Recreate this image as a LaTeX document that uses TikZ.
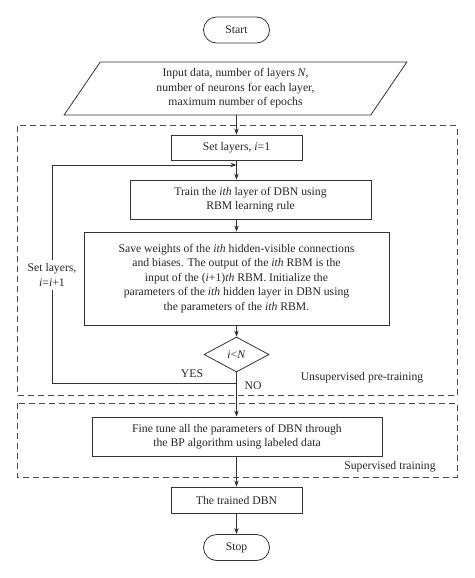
\documentclass[tikz,border=0pt]{standalone}
\usepackage{fontspec}
\setmainfont{Liberation Serif}
\usetikzlibrary{shapes.geometric, shapes.misc, arrows.meta}

\tikzset{
    box/.style={draw=black!80, line width=0.8pt, align=center, inner sep=0pt},
    term/.style={box, rounded rectangle, minimum width=66pt, minimum height=26pt},
    region/.style={draw=black!70, line width=0.8pt, dash pattern=on 6pt off 4pt},
    flow/.style={-{Stealth[length=6pt, width=4.5pt]}, draw=black!80, line width=0.8pt},
    txt/.style={text=black!85, font=\fontsize{11.7}{14.5}\selectfont}
}

\begin{document}
\begin{tikzpicture}[x=1pt, y=-1pt, every node/.style={txt}]
            \useasboundingbox (0, 0) rectangle (474, 578);
            \draw[region] (17, 125.5) rectangle (457, 395);
            \draw[region] (17, 403) rectangle (457, 477);
            \node[term] (start) at (236.5, 30){Start};
            \node[box, trapezium, trapezium left angle=62, trapezium right angle=118, trapezium stretches=true, minimum width=343pt, minimum height=53pt] (input) at (235.5, 88.5){Input data, number of layers \textit{N},\\ number of neurons for each layer,\\ maximum number of epochs};
            \node[box, minimum width=131pt, minimum height=25pt] (setone) at (236.5, 147.5){Set layers, \textit{i}=1};
            \node[box, minimum width=241pt, minimum height=39pt] (train) at (250.5, 199.5){Train the \textit{ith} layer of DBN using\\ RBM learning rule};
            \node[box, minimum width=305pt, minimum height=93pt] (save) at (236.5, 278.5){Save weights of the \textit{ith} hidden-visible connections\\ and biases. The output of the \textit{ith} RBM is the\\ input of the (\textit{i}+1)\textit{th} RBM. Initialize the\\ parameters of the \textit{ith} hidden layer in DBN using\\ the parameters of the \textit{ith} RBM.};
            \node[box, diamond, minimum width=65pt, minimum height=35pt] (dec) at (236.5, 354.5){\textit{i}<\textit{N}};
            \node[box, minimum width=290pt, minimum height=39pt] (fine) at (237, 436.5){Fine tune all the parameters of DBN through\\ the BP algorithm using labeled data};
            \node[box, minimum width=131pt, minimum height=26pt] (trained) at (236.5, 500){The trained DBN};
            \node[term] (stop) at (236.5, 547.5){Stop};
            \node[align=center] (setnext) at (52, 275){Set layers,\\ \textit{i}=\textit{i}+1};
            \node (yes) at (192, 374){YES};
            \node (no) at (253, 386){NO};
            \node (unsup) at (362, 378){Unsupervised pre-training};
            \node (sup) at (390, 467){Supervised training};
            \coordinate (join) at (236.5, 165);
            \draw[flow] (input.south -| setone) -- (setone.north);
            \draw[flow] (setone.south) -- (setone.south |- train.north);
            \draw[flow] (setone.south |- train.south) -- (save.north);
            \draw[flow] (save.south) -- (dec.north);
            \draw[flow] (dec.south) -- (fine.north -| dec);
            \draw[flow] (fine.south -| trained) -- (trained.north);
            \draw[flow] (trained.south) -- (stop.north);
            \draw[black!80, line width=0.8pt] (dec.south) -- ++(0, 11) -| (setnext.south);
            \draw[flow] (setnext.north) |- (join);
        \end{tikzpicture}
\end{document}
